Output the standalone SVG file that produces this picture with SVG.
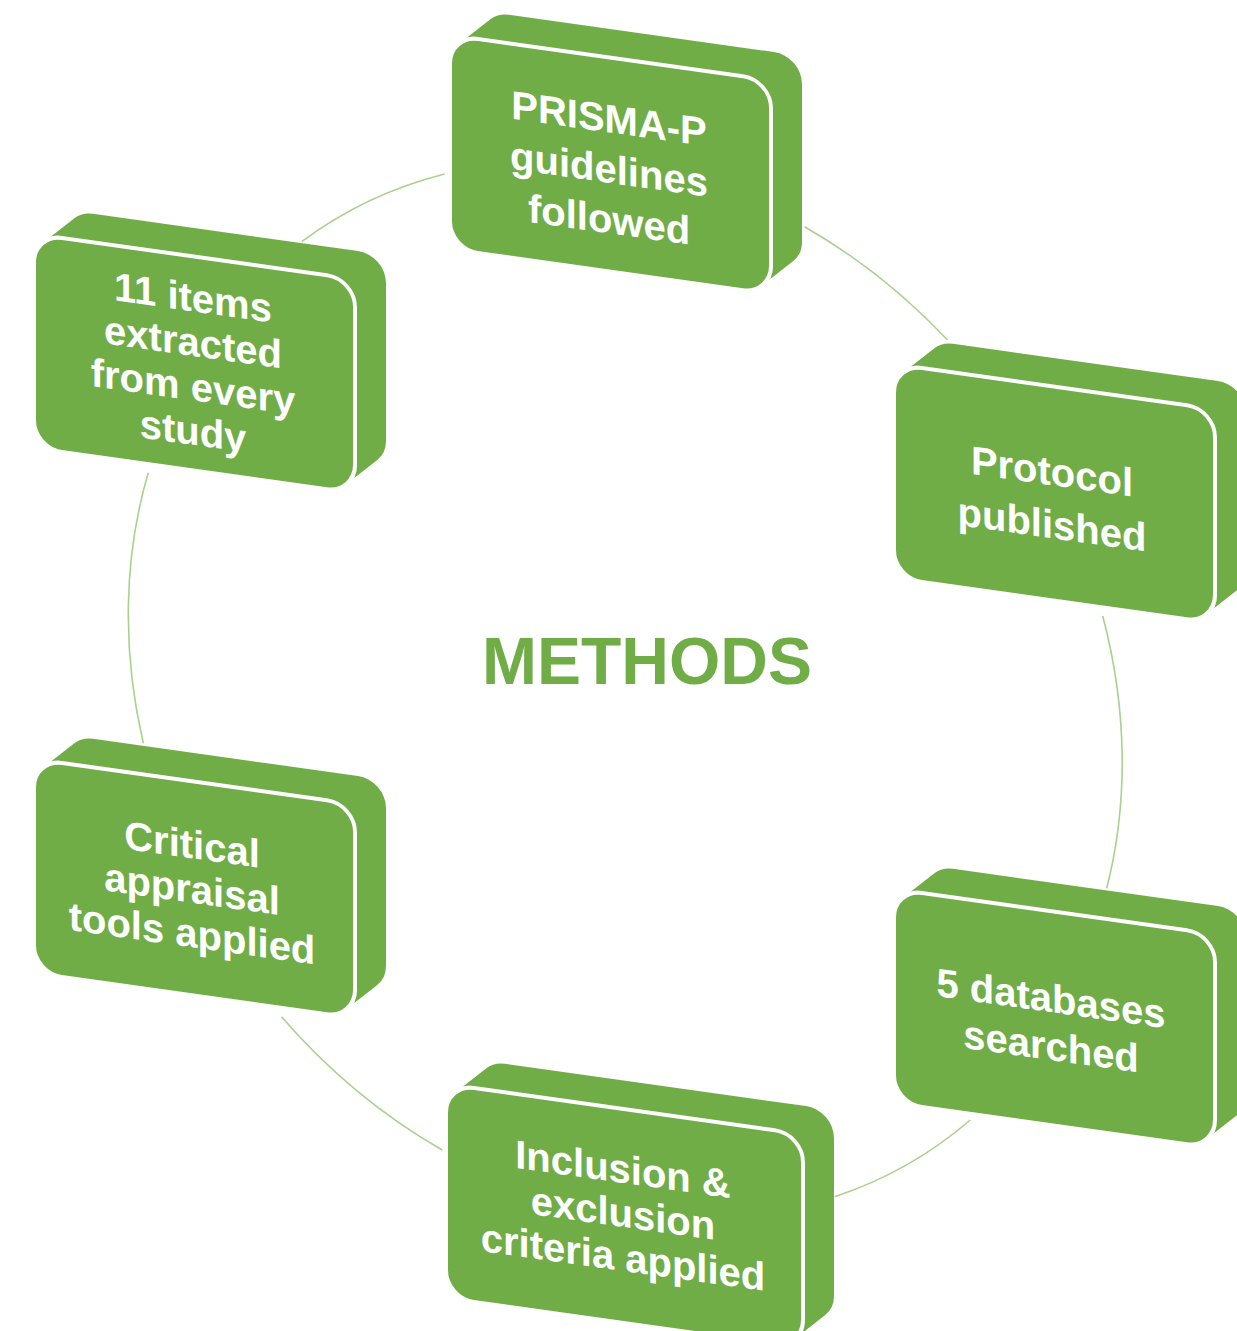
<svg xmlns="http://www.w3.org/2000/svg" width="1237" height="1331" viewBox="0 0 1237 1331">
<style>
.side{fill:#70AD47}
.face{fill:#70AD47;stroke:#FFFFFF;stroke-width:4}
.lbl{font-family:"Liberation Sans",Arial,sans-serif;font-weight:bold;font-size:40px;fill:#FFFFFF;text-anchor:middle}
.arc{fill:none;stroke:#A9D18E;stroke-width:1.6}
.title{font-family:"Liberation Sans",Arial,sans-serif;font-weight:bold;font-size:66px;fill:#70AD47;text-anchor:middle}
</style>
<defs>
<path id="side321" d="M0,186 L0,28 A28,28 0 0 1 9.05,7.39 L40.05,-21.11 A28,28 0 0 1 59,-28.5 L324,-28.5 A28,28 0 0 1 352,-0.5 L352,157.5 A28,28 0 0 1 342.95,178.11 L311.95,206.61 A28,28 0 0 1 293,214 L28,214 A28,28 0 0 1 0,186 Z"/>
<path id="side357" d="M0,186 L0,28 A28,28 0 0 1 9.05,7.39 L40.05,-21.11 A28,28 0 0 1 59,-28.5 L360,-28.5 A28,28 0 0 1 388,-0.5 L388,157.5 A28,28 0 0 1 378.95,178.11 L347.95,206.61 A28,28 0 0 1 329,214 L28,214 A28,28 0 0 1 0,186 Z"/>
</defs>
<rect width="1237" height="1331" fill="#FFFFFF"/>
<g id="connectors">
<path class="arc" d="M804.5,226.7 A550,466 54.4 0 1 947.5,340"/>
<path class="arc" d="M1102.7,616 A550,466 54.4 0 1 1106.7,888.3"/>
<path class="arc" d="M970.2,1120 A550,466 54.4 0 1 834.7,1196.7"/>
<path class="arc" d="M442.2,1150 A550,466 54.4 0 1 281.5,1016.7"/>
<path class="arc" d="M143.3,743.3 A550,466 54.4 0 1 148.3,472.7"/>
<path class="arc" d="M301.7,241.7 A550,466 54.4 0 1 444.7,174"/>
</g>
<text id="title" class="title" x="647" y="684">METHODS</text>
<g id="node-prisma" transform="translate(450,35) skewY(8)">
<use href="#side321" class="side"/>
<rect class="face" x="0" y="0" width="321" height="214" rx="28"/>
<text class="lbl" x="159" y="75">PRISMA-P</text>
<text class="lbl" x="159" y="125.5">guidelines</text>
<text class="lbl" x="159" y="176">followed</text>
</g>
<g id="node-protocol" transform="translate(894,364) skewY(8)">
<use href="#side321" class="side"/>
<rect class="face" x="0" y="0" width="321" height="214" rx="28"/>
<text class="lbl" x="158" y="99">Protocol</text>
<text class="lbl" x="158" y="152">published</text>
</g>
<g id="node-databases" transform="translate(894,889) skewY(8)">
<use href="#side321" class="side"/>
<rect class="face" x="0" y="0" width="321" height="214" rx="28"/>
<text class="lbl" x="157" y="101">5 databases</text>
<text class="lbl" x="157" y="149">searched</text>
</g>
<g id="node-inclusion" transform="translate(446,1084) skewY(8)">
<use href="#side357" class="side"/>
<rect class="face" x="0" y="0" width="357" height="214" rx="28"/>
<text class="lbl" x="177" y="74">Inclusion &amp;</text>
<text class="lbl" x="177" y="118">exclusion</text>
<text class="lbl" x="177" y="162">criteria applied</text>
</g>
<g id="node-critical" transform="translate(34,759) skewY(8)">
<use href="#side321" class="side"/>
<rect class="face" x="0" y="0" width="321" height="214" rx="28"/>
<text class="lbl" x="158" y="77">Critical</text>
<text class="lbl" x="158" y="121.5">appraisal</text>
<text class="lbl" x="158" y="166">tools applied</text>
</g>
<g id="node-items" transform="translate(34,234) skewY(8)">
<use href="#side321" class="side"/>
<rect class="face" x="0" y="0" width="321" height="214" rx="28"/>
<text class="lbl" x="159" y="55">11 items</text>
<text class="lbl" x="159" y="99.5">extracted</text>
<text class="lbl" x="159" y="144">from every</text>
<text class="lbl" x="159" y="188.5">study</text>
</g>
</svg>
